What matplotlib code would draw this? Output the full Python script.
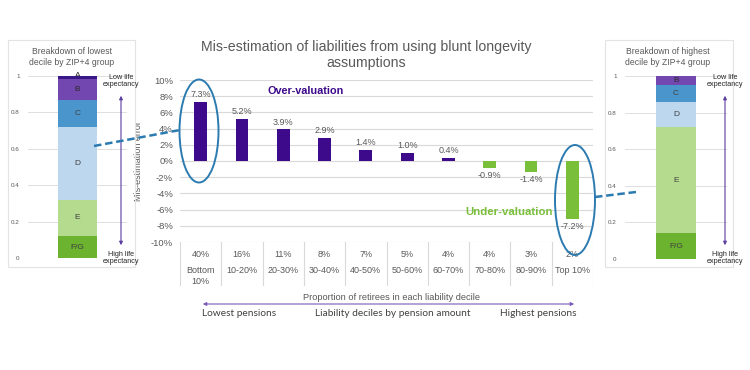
import numpy as np
import matplotlib
matplotlib.use('Agg')
import matplotlib.pyplot as plt
from matplotlib.patches import Ellipse, Rectangle, FancyArrowPatch
from matplotlib.lines import Line2D

plt.rcParams['font.family'] = ['Liberation Sans', 'DejaVu Sans']

# data
deciles = ['Bottom\n10%', '10-20%', '20-30%', '30-40%', '40-50%',
           '50-60%', '60-70%', '70-80%', '80-90%', 'Top 10%']
proportion = ['40%', '16%', '11%', '8%', '7%', '5%', '4%', '4%', '3%', '2%']
mis_est = [7.3, 5.2, 3.9, 2.9, 1.4, 1.0, 0.4, -0.9, -1.4, -7.2]

groups_low = ['F/G', 'E', 'D', 'C', 'B', 'A']
share_low = [0.12, 0.20, 0.40, 0.15, 0.115, 0.015]
groups_high = ['F/G', 'E', 'D', 'C', 'B']
share_high = [0.14, 0.58, 0.14, 0.09, 0.05]

grp_colors = {'F/G': '#6cb42f', 'E': '#b5db8e', 'D': '#bdd8ee',
              'C': '#4a96cc', 'B': '#7347b0', 'A': '#3a1789'}

purple = '#3c0a8a'
green = '#7abf3a'
ring = '#2b7bb0'
grey = '#595959'
gridc = '#d9d9d9'

W, H = 750, 370
fig = plt.figure(figsize=(7.5, 3.7), dpi=100)


def px_axes(x0, y0, x1, y1):
    return fig.add_axes([x0 / W, 1 - y1 / H, (x1 - x0) / W, (y1 - y0) / H])


def fx(x):
    return x / W


def fy(y):
    return 1 - y / H


# ---- main chart
ax = px_axes(180, 80, 593, 242)
x = np.arange(len(mis_est))
cols = [purple if v > 0 else green for v in mis_est]
ax.bar(x, mis_est, width=0.31, color=cols, zorder=3)
ax.set_xlim(-0.5, 9.5)
ax.set_ylim(-10, 10)
ax.set_yticks(np.arange(-10, 11, 2))
ax.set_yticklabels(['%d%%' % t for t in np.arange(-10, 11, 2)], fontsize=6.8, color=grey)
ax.tick_params(axis='y', length=0, pad=5)
ax.set_xticks([])
for s in ax.spines.values():
    s.set_visible(False)
ax.grid(axis='y', color=gridc, linewidth=0.8, zorder=0)
ax.set_ylabel('Mis-estimation error', fontsize=6.5, color=grey)
ax.yaxis.set_label_coords(-0.09, 0.5)
for i, v in enumerate(mis_est):
    if v > 0:
        ax.annotate('%.1f%%' % v, (i, v), xytext=(0, 2), textcoords='offset points',
                    ha='center', va='bottom', fontsize=6.5, color=grey)
    else:
        ax.annotate('%.1f%%' % v, (i, v), xytext=(0, -2), textcoords='offset points',
                    ha='center', va='top', fontsize=6.5, color=grey)
ax.text(1.63, 8.6, 'Over-valuation', fontsize=7.8, fontweight='bold', color=purple,
        ha='left', va='center')
ax.text(8.53, -6.3, 'Under-valuation', fontsize=8.2, fontweight='bold', color=green,
        ha='right', va='center', zorder=5)

# category table under the chart
tb = px_axes(180, 242, 593, 286)
tb.set_xlim(-0.5, 9.5)
tb.set_ylim(0, 1)
tb.axis('off')
for b in np.arange(-0.5, 10, 1):
    tb.plot([b, b], [0, 1], color=gridc, linewidth=0.8)
for i in range(len(deciles)):
    tb.text(i, 0.72, proportion[i], ha='center', va='center', fontsize=6.5, color=grey)
    tb.text(i, 0.45, deciles[i], ha='center', va='top', fontsize=6.5, color=grey,
            linespacing=1.2)

fig.text(fx(392), fy(297), 'Proportion of retirees in each liability decile',
         ha='center', va='center', fontsize=6.7, color=grey)
fig.add_artist(FancyArrowPatch((fx(200), fy(304)), (fx(577), fy(304)),
                               transform=fig.transFigure, arrowstyle='<|-|>',
                               mutation_scale=5, color='#7b5bb8', linewidth=0.8))
fig.text(fx(202), fy(314), 'Lowest pensions', ha='left', va='center',
         fontsize=7.3, color='#404040', family=['Lato', 'DejaVu Sans'])
fig.text(fx(393), fy(314), 'Liability deciles by pension amount', ha='center',
         va='center', fontsize=7.3, color='#404040', family=['Lato', 'DejaVu Sans'])
fig.text(fx(576), fy(314), 'Highest pensions', ha='right', va='center',
         fontsize=7.3, color='#404040', family=['Lato', 'DejaVu Sans'])

fig.text(fx(366), fy(55), 'Mis-estimation of liabilities from using blunt longevity\nassumptions',
         ha='center', va='center', fontsize=10.2, color=grey, linespacing=1.1)


# ---- side panels
def side_panel(x0, x1, y1v, y0v, groups, shares, title, tx):
    a = px_axes(x0, y1v, x1, y0v)
    bottom = 0
    for g, s in zip(groups, shares):
        a.bar(0.5, s, bottom=bottom, width=0.4, color=grp_colors[g], zorder=3)
        txtc = '#404040' if g not in ('A', 'B') else '#2a2a2a'
        yy = bottom + s / 2 if s > 0.03 else bottom + s + 0.005
        a.text(0.5, yy, g, ha='center', va='center', fontsize=6, color=txtc, zorder=4)
        bottom += s
    a.set_xlim(0, 1)
    a.set_ylim(0, 1)
    a.set_yticks([0, 0.2, 0.4, 0.6, 0.8, 1])
    a.set_yticklabels(['0', '0.2', '0.4', '0.6', '0.8', '1'], fontsize=4.5, color=grey)
    a.tick_params(axis='y', length=0, pad=6)
    a.set_xticks([])
    for s in a.spines.values():
        s.set_visible(False)
    a.grid(axis='y', color=gridc, linewidth=0.6, zorder=0)
    fig.text(fx(tx), fy(57), title, ha='center', va='center', fontsize=6.2,
             color=grey, linespacing=1.25)
    return a


side_panel(28, 127, 76, 258, groups_low, share_low,
           'Breakdown of lowest\ndecile by ZIP+4 group', 72)
side_panel(625, 727, 76, 259, groups_high, share_high,
           'Breakdown of highest\ndecile by ZIP+4 group', 668)

for (x0, x1) in [(8, 135), (605, 733)]:
    fig.add_artist(Rectangle((fx(x0), fy(267)), fx(x1) - fx(x0), fy(40) - fy(267),
                             transform=fig.transFigure, fill=False,
                             edgecolor='#e3e3e3', linewidth=0.8))

for ax_x in [121, 725]:
    fig.add_artist(FancyArrowPatch((fx(ax_x), fy(93)), (fx(ax_x), fy(248)),
                                   transform=fig.transFigure, arrowstyle='<|-|>',
                                   mutation_scale=5, color='#5b3ca0', linewidth=0.8))
    fig.text(fx(ax_x), fy(81), 'Low life\nexpectancy', ha='center', va='center',
             fontsize=5.2, color='#262626', linespacing=1.1)
    fig.text(fx(ax_x), fy(258), 'High life\nexpectancy', ha='center', va='center',
             fontsize=5.2, color='#262626', linespacing=1.1)

# ---- highlight rings and connectors
fig.add_artist(Ellipse((fx(199), fy(131)), 39 / W, 103 / H, transform=fig.transFigure,
                       fill=False, edgecolor=ring, linewidth=1.4))
fig.add_artist(Ellipse((fx(575), fy(200)), 40 / W, 110 / H, transform=fig.transFigure,
                       fill=False, edgecolor=ring, linewidth=1.4))
fig.add_artist(Line2D([fx(94), fx(180)], [fy(146), fy(130)], transform=fig.transFigure,
                      color=ring, linewidth=1.8, linestyle=(0, (3, 1.5))))
fig.add_artist(Line2D([fx(595), fx(636)], [fy(197), fy(192)], transform=fig.transFigure,
                      color=ring, linewidth=1.8, linestyle=(0, (3, 1.5))))

fig.savefig('out.png', dpi=100)
